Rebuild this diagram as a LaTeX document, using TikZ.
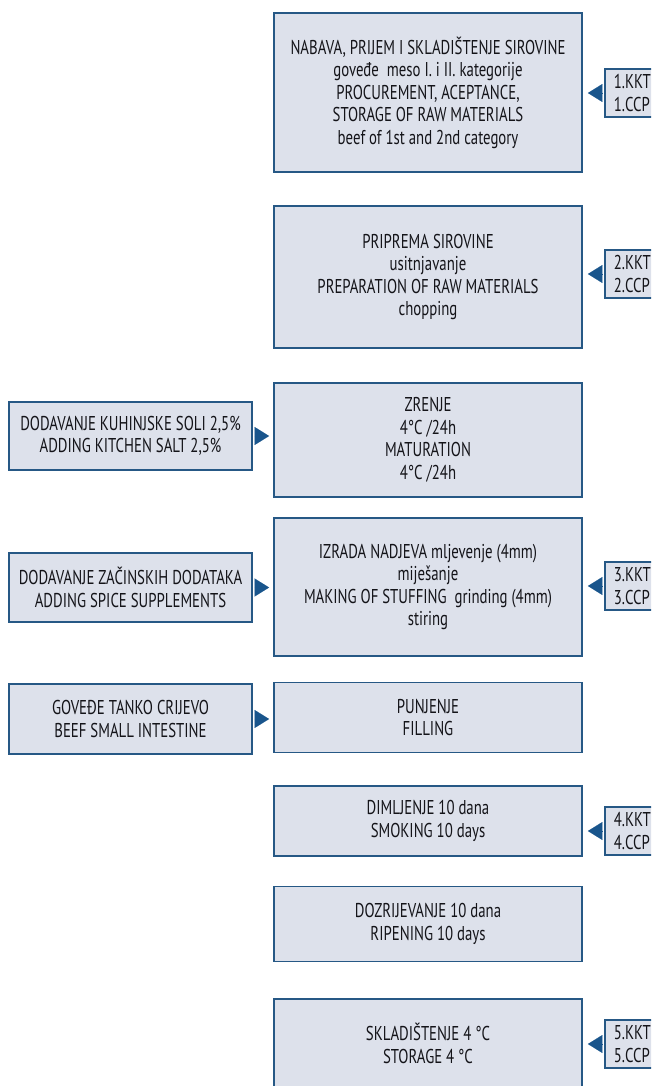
\documentclass[tikz,border=0pt]{standalone}
\usepackage{fontspec}
\setmainfont{PT Sans}[FakeStretch=0.74]
\usetikzlibrary{arrows.meta}
\definecolor{bfill}{RGB}{221,225,235}
\definecolor{bline}{RGB}{38,88,133}
\definecolor{tri}{RGB}{25,85,140}
\definecolor{txt}{RGB}{20,20,25}
\begin{document}
\begin{tikzpicture}[x=1pt,y=-1pt,
  every node/.style={font=\fontsize{20}{22.5}\selectfont, text=txt},
  box/.style={draw=bline, line width=1.8pt, fill=bfill, align=center, inner sep=0pt},
  mainbox/.style={box, minimum width=308pt},
  leftbox/.style={box, minimum width=243pt},
  kkt/.style={box, anchor=west, minimum height=48pt, text width=52pt, inner xsep=9pt, align=left},
  triarrow/.style={draw=tri, line width=0.1pt, -{Triangle[length=14.5pt,width=18pt]}, fill=tri}
]
\useasboundingbox (0,0) rectangle (651,1086);
\clip (0,0) rectangle (651,1086);

% main column
\node[mainbox, minimum height=159pt] (n1) at (428,92.5) {NABAVA, PRIJEM I SKLADIŠTENJE SIROVINE\\ goveđe\ \ meso I. i II. kategorije\\ PROCUREMENT, ACEPTANCE,\\ STORAGE OF RAW MATERIALS\\ beef of 1st and 2nd category};
\node[mainbox, minimum height=142pt] (n2) at (428,277) {PRIPREMA SIROVINE\\ usitnjavanje\\ PREPARATION OF RAW MATERIALS\\ chopping};
\node[mainbox, minimum height=114pt] (n3) at (428,440) {ZRENJE\\ 4°C /24h\\ MATURATION\\ 4°C /24h};
\node[mainbox, minimum height=138pt] (n4) at (428,587) {IZRADA NADJEVA mljevenje (4mm)\\ miješanje\\ MAKING OF STUFFING\ \ grinding (4mm)\\ stiring};
\node[mainbox, minimum height=70pt] (n5) at (428,717.5) {PUNJENJE\\ FILLING};
\node[mainbox, minimum height=70pt] (n6) at (428,821) {DIMLJENJE 10 dana\\ SMOKING 10 days};
\node[mainbox, minimum height=75pt] (n7) at (428,924) {DOZRIJEVANJE 10 dana\\ RIPENING 10 days};
\node[mainbox, minimum height=89pt] (n8) at (428,1043.5) {SKLADIŠTENJE 4 °C\\ STORAGE 4 °C};

% left inputs
\node[leftbox, minimum height=68pt] (l1) at (130.5,436) {DODAVANJE KUHINJSKE SOLI 2,5\%\\ ADDING KITCHEN SALT 2,5\%};
\node[leftbox, minimum height=69pt] (l2) at (130.5,587.5) {DODAVANJE ZAČINSKIH DODATAKA\\ ADDING SPICE SUPPLEMENTS};
\node[leftbox, minimum height=70pt] (l3) at (130.5,719) {GOVEĐE TANKO CRIJEVO\\ BEEF SMALL INTESTINE};

% KKT / CCP boxes
\node[kkt] (k1) at (604,93) {1.KKT\\ 1.CCP};
\node[kkt] (k2) at (604,274) {2.KKT\\ 2.CCP};
\node[kkt] (k3) at (604,586) {3.KKT\\ 3.CCP};
\node[kkt] (k4) at (604,831) {4.KKT\\ 4.CCP};
\node[kkt] (k5) at (604,1044) {5.KKT\\ 5.CCP};

% arrows
\foreach \l/\m in {l1/n3, l2/n4, l3/n5}
  \draw[triarrow, shorten <=3pt, shorten >=4pt] (\l.east) -- (\l.east -| \m.west);
\foreach \k/\m in {k1/n1, k2/n2, k3/n4, k4/n6, k5/n8}
  \draw[triarrow, shorten <=2pt, shorten >=5pt] (\k.west) -- (\k.west -| \m.east);
\end{tikzpicture}
\end{document}
